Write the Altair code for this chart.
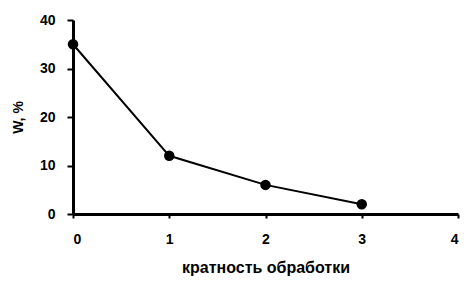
import altair as alt
import pandas as pd

x_vals = [0, 1, 2, 3]
w_vals = [35, 12, 6, 2]

df = pd.DataFrame({"x": x_vals, "w": w_vals})

base = alt.Chart(df)

xenc = alt.X("x:Q", title="кратность обработки",
             scale=alt.Scale(domain=[0, 4], nice=False),
             axis=alt.Axis(values=[0, 1, 2, 3, 4], format="d", tickSize=4,
                           labelPadding=14, titlePadding=13, titleFontSize=16))
yenc = alt.Y("w:Q", title="W, %",
             scale=alt.Scale(domain=[0, 40], nice=False),
             axis=alt.Axis(values=[0, 10, 20, 30, 40], tickSize=6,
                           labelPadding=12, titlePadding=14))

line = base.mark_line(color="black", strokeWidth=2).encode(x=xenc, y=yenc)
pts = base.mark_circle(color="black", opacity=1, size=110).encode(x="x:Q", y="w:Q")

chart = (line + pts).properties(
    width=385, height=194,
    autosize=alt.AutoSizeParams(type="none"),
    padding={"left": 65, "top": 12, "right": 10, "bottom": 64},
).configure_view(stroke=None).configure_axis(
    grid=False,
    domainColor="black", domainWidth=3,
    tickColor="black", tickWidth=2,
    labelColor="black", labelFont="Liberation Sans", labelFontSize=14,
    labelFontWeight="bold",
    titleColor="black", titleFont="Liberation Sans", titleFontSize=14,
    titleFontWeight="bold",
)

chart.save("out.html", embed_options={"renderer": "svg", "actions": False})
